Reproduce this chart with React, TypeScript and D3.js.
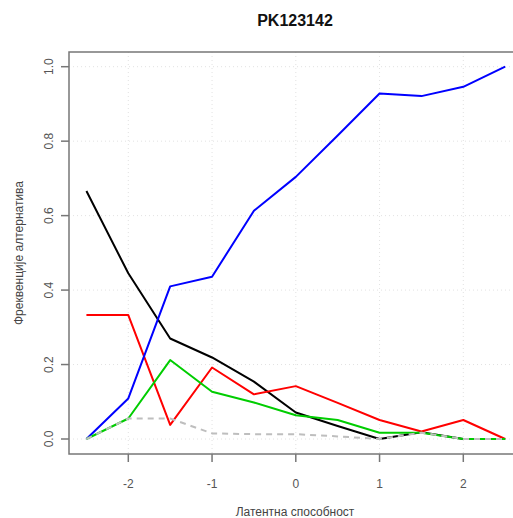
import React, { useEffect, useRef } from 'react';
import * as d3 from 'd3';

const ability = [-2.5, -2, -1.5, -1, -0.5, 0, 0.5, 1, 1.5, 2, 2.5];
const blackAlt = [0.666, 0.445, 0.27, 0.219, 0.154, 0.071, 0.035, 0, 0.018, 0, 0];
const redAlt = [0.333, 0.333, 0.038, 0.192, 0.12, 0.142, 0.097, 0.051, 0.02, 0.051, 0];
const blueAlt = [0, 0.109, 0.41, 0.436, 0.613, 0.704, 0.815, 0.928, 0.921, 0.946, 1.0];
const greenAlt = [0, 0.055, 0.212, 0.127, 0.098, 0.064, 0.051, 0.017, 0.017, 0, 0];
const grayAlt = [0, 0.055, 0.055, 0.015, 0.013, 0.013, 0.007, 0, 0.017, 0, 0];
const xTicks = [-2, -1, 0, 1, 2];
const yTicks = [0, 0.2, 0.4, 0.6, 0.8, 1.0];

const series = [
  { values: blackAlt, color: '#000000', dash: null },
  { values: redAlt, color: '#ff0000', dash: null },
  { values: blueAlt, color: '#0000ff', dash: null },
  { values: greenAlt, color: '#00cd00', dash: null },
  { values: grayAlt, color: '#bebebe', dash: '6,5' },
];

const App = () => {
  const svgRef = useRef<SVGSVGElement>(null);

  useEffect(() => {
    if (!svgRef.current) return;
    const svg = d3.select(svgRef.current);
    svg.selectAll('*').remove();

    const width = 513;
    const height = 518;
    const box = { left: 69, right: 521, top: 52, bottom: 454 };
    const font = '"Liberation Sans", Arial, sans-serif';

    const x = d3.scaleLinear().domain([-2, 2]).range([128.3, 463.3]);
    const y = d3.scaleLinear().domain([0, 1]).range([439, 66.7]);

    // Grid
    xTicks.forEach((t) => {
      svg.append('line')
        .attr('x1', x(t)).attr('x2', x(t))
        .attr('y1', box.top).attr('y2', box.bottom)
        .attr('stroke', '#e2e2e2').attr('stroke-width', 1)
        .attr('stroke-dasharray', '1,3');
    });
    yTicks.forEach((t) => {
      svg.append('line')
        .attr('x1', box.left).attr('x2', box.right)
        .attr('y1', y(t)).attr('y2', y(t))
        .attr('stroke', '#e2e2e2').attr('stroke-width', 1)
        .attr('stroke-dasharray', '1,3');
    });

    // Lines
    const line = d3.line<number>()
      .x((_, i) => x(ability[i]))
      .y((d) => y(d));

    series.forEach((s) => {
      svg.append('path')
        .datum(s.values)
        .attr('d', line)
        .attr('fill', 'none')
        .attr('stroke', s.color)
        .attr('stroke-width', 2)
        .attr('stroke-linejoin', 'round')
        .attr('stroke-dasharray', s.dash);
    });

    // Box
    svg.append('rect')
      .attr('x', box.left).attr('y', box.top)
      .attr('width', box.right - box.left).attr('height', box.bottom - box.top)
      .attr('fill', 'none').attr('stroke', '#777').attr('stroke-width', 1.5);

    // X axis ticks
    xTicks.forEach((t) => {
      svg.append('line')
        .attr('x1', x(t)).attr('x2', x(t))
        .attr('y1', box.bottom).attr('y2', box.bottom + 8)
        .attr('stroke', '#777').attr('stroke-width', 1.5);
      svg.append('text')
        .attr('x', x(t)).attr('y', 488)
        .attr('text-anchor', 'middle')
        .attr('font-family', font).attr('font-size', '12px')
        .attr('fill', '#555')
        .text(t < 0 ? `-${Math.abs(t)}` : `${t}`);
    });

    // Y axis ticks
    yTicks.forEach((t) => {
      svg.append('line')
        .attr('x1', box.left - 8).attr('x2', box.left)
        .attr('y1', y(t)).attr('y2', y(t))
        .attr('stroke', '#777').attr('stroke-width', 1.5);
      svg.append('text')
        .attr('transform', `translate(53,${y(t)}) rotate(-90)`)
        .attr('text-anchor', 'middle')
        .attr('font-family', font).attr('font-size', '12px')
        .attr('fill', '#555')
        .text(t.toFixed(1));
    });

    // Titles
    svg.append('text')
      .attr('x', 295).attr('y', 26)
      .attr('text-anchor', 'middle')
      .attr('font-family', font).attr('font-size', '16px')
      .attr('font-weight', 'bold')
      .attr('fill', '#111')
      .text('PK123142');

    svg.append('text')
      .attr('x', 295).attr('y', 516)
      .attr('text-anchor', 'middle')
      .attr('font-family', font).attr('font-size', '12px')
      .attr('fill', '#444')
      .text('Латентна способност');

    svg.append('text')
      .attr('transform', `translate(23,253) rotate(-90)`)
      .attr('text-anchor', 'middle')
      .attr('font-family', font).attr('font-size', '12px')
      .attr('fill', '#444')
      .text('Фреквенције алтернатива');

    svg.attr('width', width).attr('height', height);
  }, []);

  return (
    <svg ref={svgRef} width={513} height={518}
      style={{ position: 'absolute', left: 0, top: 0, background: '#fff' }} />
  );
};

export default App;
